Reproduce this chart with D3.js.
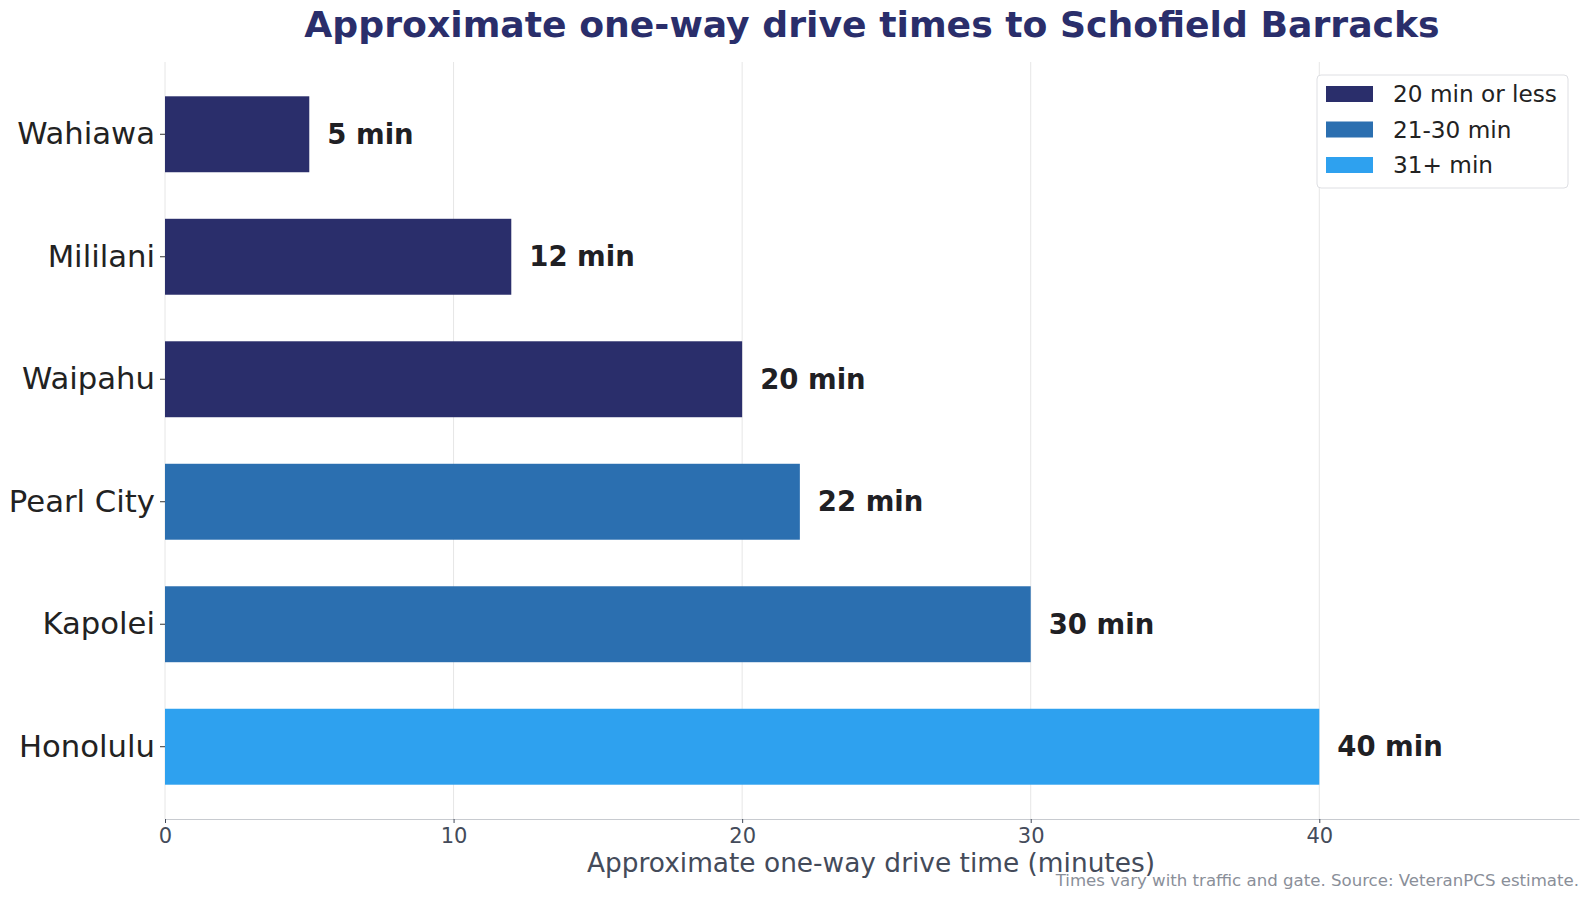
<!DOCTYPE html>
<html>
<head>
<meta charset="utf-8">
<script src="https://cdn.jsdelivr.net/npm/d3@7"></script>
<style>
  html, body { margin: 0; padding: 0; background: #fff; }
  svg { display: block; font-family: "DejaVu Sans", sans-serif; }
  .grid line { stroke: #e6e6e6; stroke-width: 1; }
  .x-axis .domain { stroke: #c8cbd0; }
  .x-axis line { stroke: #444b5a; }
  .x-axis text { fill: #444b5a; font-size: 21px; }
  .y-axis .domain { display: none; }
  .y-axis line { stroke: #333; }
  .y-axis text { fill: #222; font-size: 30.7px; }
</style>
</head>
<body>
<svg id="chart" width="1589" height="900"></svg>
<script>
/* data */
const towns = ["Wahiawa", "Mililani", "Waipahu", "Pearl City", "Kapolei", "Honolulu"];
const minutes = [5, 12, 20, 22, 30, 40];
const bandNames = ["20 min or less", "21-30 min", "31+ min"];
const bandColors = ["#2a2e6b", "#2b6fb0", "#2ea1ef"];
const xTicks = [0, 10, 20, 30, 40];

const titleText = "Approximate one-way drive times to Schofield Barracks";
const xLabelText = "Approximate one-way drive time (minutes)";
const noteText = "Times vary with traffic and gate. Source: VeteranPCS estimate.";

const rows = towns.map((t, i) => ({ town: t, min: minutes[i] }));
const bandOf = m => (m <= 20 ? 0 : m <= 30 ? 1 : 2);

const svg = d3.select("#chart");
const viewW = 1589, viewH = 900;
const margin = { top: 62, right: 10, bottom: 81, left: 165 };
const innerW = viewW - margin.left - margin.right;
const innerH = viewH - margin.top - margin.bottom;

const g = svg.append("g").attr("transform", `translate(${margin.left},${margin.top})`);

const xScale = d3.scaleLinear().domain([0, 49]).range([0, innerW]);
const yScale = d3.scaleBand().domain(towns).range([0, innerH])
  .paddingInner(0.38).paddingOuter(0.28);

// vertical gridlines behind the bars
g.append("g").attr("class", "grid")
  .selectAll("line").data(xTicks).join("line")
  .attr("x1", d => xScale(d)).attr("x2", d => xScale(d))
  .attr("y1", 0).attr("y2", innerH);

// d3 axes stamp font-family="sans-serif" on the group, so put DejaVu back
g.append("g").attr("class", "axis x-axis")
  .attr("transform", `translate(0,${innerH})`)
  .call(d3.axisBottom(xScale).tickValues(xTicks).tickSize(4).tickSizeOuter(0).tickPadding(5))
  .attr("font-family", "DejaVu Sans");

g.append("g").attr("class", "axis y-axis")
  .call(d3.axisLeft(yScale).tickSize(5).tickPadding(5))
  .attr("font-family", "DejaVu Sans");

/* ---------- bars + value labels ---------- */
g.selectAll("rect.bar").data(rows).join("rect")
  .attr("class", "bar")
  .attr("x", 0)
  .attr("y", d => yScale(d.town))
  .attr("width", d => xScale(d.min))
  .attr("height", yScale.bandwidth())
  .attr("fill", d => bandColors[bandOf(d.min)]);

g.selectAll("text.val").data(rows).join("text")
  .attr("class", "val")
  .attr("x", d => xScale(d.min) + 18)
  .attr("y", d => yScale(d.town) + yScale.bandwidth() / 2)
  .attr("dy", "0.35em")
  .attr("font-size", 27.5).attr("font-weight", "bold").attr("fill", "#1f2024")
  .text(d => `${d.min} min`);

/* ---------- titles ---------- */
svg.append("text")
  .attr("x", margin.left + innerW / 2).attr("y", 37)
  .attr("text-anchor", "middle")
  .attr("font-size", 36.2).attr("font-weight", "bold").attr("fill", "#2a2e6b")
  .text(titleText);

svg.append("text")
  .attr("x", margin.left + innerW / 2 - 1).attr("y", 872)
  .attr("text-anchor", "middle")
  .attr("font-size", 26.4).attr("fill", "#444b5a")
  .text(xLabelText);

svg.append("text")
  .attr("x", 1579).attr("y", 886)
  .attr("text-anchor", "end")
  .attr("font-size", 16.6).attr("fill", "#8a8f99")
  .text(noteText);

/* ---------- legend ---------- */
const legend = svg.append("g").attr("transform", "translate(1317,75)");
legend.append("rect")
  .attr("width", 251).attr("height", 113).attr("rx", 4)
  .attr("fill", "#fff").attr("stroke", "#dedfe3");

const item = legend.selectAll("g.item").data(bandNames).join("g")
  .attr("class", "item")
  .attr("transform", (d, i) => `translate(9,${19 + i * 35.5})`);
item.append("rect")
  .attr("y", -8).attr("width", 47).attr("height", 16)
  .attr("fill", (d, i) => bandColors[i]);
item.append("text")
  .attr("x", 67).attr("dy", "0.35em")
  .attr("font-size", 23.2).attr("fill", "#222")
  .text(d => d);
</script>
</body>
</html>
